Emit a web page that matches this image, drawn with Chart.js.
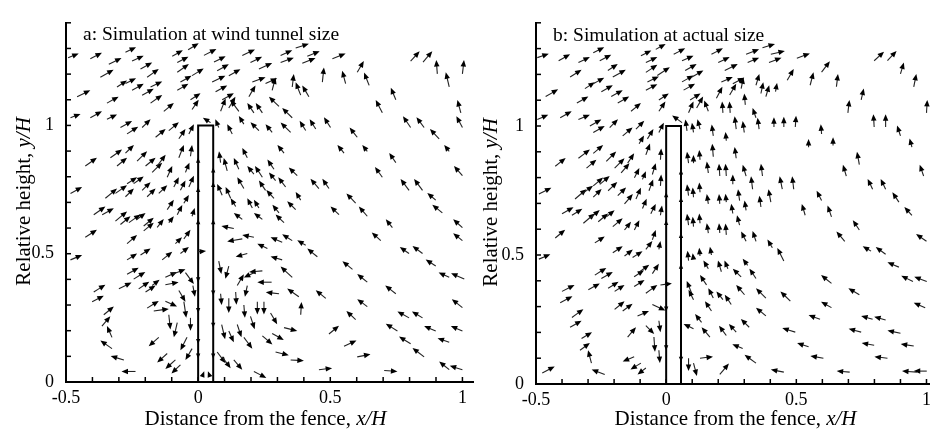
<!DOCTYPE html>
<html lang="en">
<head>
<meta charset="UTF-8">
<title>Flow around the fence</title>
<script src="https://cdn.jsdelivr.net/npm/chart.js"></script>
<style>
  body { margin: 0; background: #fff; }
  #wrap { position: relative; width: 936px; height: 429px; overflow: hidden; }
  canvas { position: absolute; top: 0; }
  #chartA { left: 0; }
  #chartB { left: 470px; }
</style>
</head>
<body>
<div id="wrap">
  <canvas id="chartA" width="480" height="429"></canvas>
  <canvas id="chartB" width="466" height="429"></canvas>
</div>
<script>
// tick labels
const xTickValues = [-0.5, 0, 0.5, 1];
const xTickLabels = ['-0.5', '0', '0.5', '1'];
const yTickValues = [0, 0.5, 1];
const yTickLabels = ['0', '0.5', '1'];

const titleA = 'a: Simulation at wind tunnel size';
const titleB = 'b: Simulation at actual size';
const xTitleParts = [['Distance from the fence, ', false], ['x/H', true]];
const yTitleParts = [['Relative height, ', false], ['y/H', true]];

// fence outline, x/H and y/H
const fenceX = [0, 0, 0.057, 0.057];
const fenceY = [0, 1, 1, 0];

// velocity vectors: [x, y, u, v]  (tail position and vector, in H units)
const arrowsA = [
  [-0.492,1.264,0.040,0.016],[-0.408,1.260,0.044,0.023],[-0.338,1.238,0.048,0.025],[-0.275,1.285,0.040,0.020],
  [-0.250,1.251,0.044,0.021],[-0.098,1.270,0.040,0.023],[-0.079,1.245,0.042,0.023],[-0.038,1.295,0.040,0.025],
  [0.022,1.273,0.047,0.025],[0.060,1.247,0.044,0.023],[0.167,1.273,0.048,0.023],[0.198,1.245,0.044,0.023],
  [0.312,1.273,0.044,0.020],[0.369,1.302,0.050,0.016],[0.312,1.245,0.050,0.019],[0.413,1.270,0.047,0.019],
  [0.394,1.242,0.050,0.021],[0.508,1.260,0.050,0.020],[0.602,1.207,0.025,0.044],[0.804,1.251,0.034,0.038],
  [0.851,1.247,0.035,0.042],[0.905,1.201,-0.004,0.054],[1.000,1.201,0.006,0.054],[-0.370,1.188,0.050,0.029],
  [-0.218,1.220,0.044,0.025],[-0.193,1.188,0.044,0.032],[-0.079,1.207,0.044,0.032],[-0.023,1.194,0.044,0.028],
  [-0.067,1.169,0.042,0.025],[0.072,1.213,0.044,0.025],[0.053,1.169,0.050,0.025],[0.116,1.194,0.044,0.025],
  [0.205,1.169,0.050,0.019],[0.230,1.220,0.050,0.023],[0.255,1.163,0.044,0.021],[0.280,1.137,0.013,0.050],
  [0.356,1.150,0.006,0.050],[0.470,1.169,0.006,0.057],[0.558,1.163,-0.013,0.050],[0.647,1.156,-0.019,0.050],
  [0.950,1.150,-0.013,0.057],[-0.307,1.150,0.038,0.025],[-0.275,1.163,0.040,0.021],[-0.250,1.137,0.044,0.025],
  [-0.212,1.118,0.044,0.025],[-0.180,1.150,0.044,0.021],[-0.458,1.112,0.050,0.025],[-0.345,1.087,0.044,0.025],
  [-0.079,1.137,0.042,0.025],[-0.029,1.100,0.038,0.025],[0.066,1.131,0.044,0.025],[0.091,1.100,0.044,0.025],
  [0.192,1.112,0.025,0.044],[0.388,1.118,-0.019,0.050],[0.419,1.112,-0.025,0.044],[0.748,1.100,-0.019,0.047],
  [-0.180,1.087,0.044,0.032],[-0.130,1.055,0.038,0.032],[-0.023,1.062,0.025,0.038],[0.085,1.055,0.019,0.050],
  [0.116,1.068,0.025,0.044],[0.154,1.055,-0.032,0.044],[0.211,1.049,-0.025,0.038],[0.243,1.049,-0.025,0.038],
  [0.306,1.074,-0.038,0.038],[0.356,1.030,-0.038,0.038],[0.697,1.049,-0.025,0.050],[0.994,1.049,-0.013,0.050],
  [-0.483,1.030,0.038,0.015],[-0.408,1.030,0.044,0.025],[-0.345,1.024,0.038,0.019],[-0.294,0.992,0.044,0.025],
  [-0.269,0.967,0.042,0.028],[-0.212,0.992,0.032,0.032],[-0.161,0.954,0.038,0.032],[-0.111,0.980,0.038,0.032],
  [-0.073,0.948,0.025,0.038],[-0.035,0.967,0.019,0.038],[0.047,1.011,-0.029,0.019],[0.078,0.992,-0.013,0.032],
  [0.129,0.967,-0.019,0.038],[0.173,1.005,-0.019,0.032],[0.230,0.980,-0.032,0.032],[0.280,0.973,-0.025,0.032],
  [0.350,0.973,-0.038,0.038],[0.407,0.980,-0.023,0.038],[0.445,0.986,-0.023,0.038],[0.501,0.992,-0.025,0.040],
  [0.602,0.954,-0.029,0.038],[0.804,0.992,-0.029,0.044],[0.855,0.992,-0.029,0.040],[0.912,0.948,-0.035,0.038],
  [1.000,0.992,-0.023,0.044],
  [-0.332,0.874,0.044,0.032],[-0.275,0.892,0.032,0.032],[-0.029,0.880,0.006,0.044],[0.552,0.892,-0.025,0.032],
  [0.640,0.899,-0.019,0.025],[0.950,0.899,-0.019,0.025],[-0.427,0.842,0.044,0.032],[-0.307,0.842,0.038,0.032],
  [-0.231,0.861,0.038,0.038],[-0.199,0.842,0.038,0.032],[-0.174,0.817,0.038,0.038],[-0.155,0.842,0.032,0.044],
  [-0.117,0.798,0.019,0.044],[-0.073,0.874,0.019,0.050],[-0.048,0.817,0.015,0.038],[0.085,0.855,-0.006,0.044],
  [0.110,0.823,-0.013,0.050],[0.154,0.829,-0.019,0.044],[0.186,0.874,-0.019,0.038],[0.211,0.810,-0.025,0.032],
  [0.243,0.798,-0.028,0.044],[0.287,0.829,-0.025,0.038],[0.375,0.804,-0.032,0.032],[0.325,0.892,-0.025,0.032],
  [0.748,0.855,-0.025,0.038],[0.697,0.798,-0.028,0.040],[1.000,0.804,-0.032,0.038],[-0.483,0.735,0.044,0.025],
  [-0.351,0.716,0.044,0.038],[-0.313,0.735,0.044,0.032],[-0.269,0.773,0.038,0.025],[-0.244,0.773,0.038,0.028],
  [-0.275,0.722,0.032,0.032],[-0.212,0.747,0.032,0.032],[-0.193,0.722,0.032,0.032],[-0.149,0.735,0.032,0.032],
  [-0.092,0.760,0.019,0.038],[-0.067,0.747,0.019,0.038],[-0.035,0.760,0.019,0.044],[0.091,0.728,-0.019,0.044],
  [0.123,0.716,-0.019,0.044],[0.173,0.754,-0.025,0.044],[0.255,0.747,-0.025,0.038],[0.331,0.760,-0.028,0.038],
  [0.293,0.785,-0.025,0.032],[0.457,0.754,-0.032,0.038],[0.495,0.754,-0.025,0.038],[0.798,0.747,-0.032,0.044],
  [0.849,0.747,-0.032,0.044],[0.596,0.697,-0.035,0.038],[0.899,0.709,-0.032,0.028],[-0.395,0.652,0.044,0.032],
  [-0.363,0.652,0.044,0.025],[-0.313,0.627,0.044,0.038],[-0.294,0.614,0.038,0.032],[-0.262,0.621,0.044,0.032],
  [-0.231,0.634,0.032,0.025],[-0.206,0.608,0.038,0.032],[-0.155,0.603,0.025,0.032],[-0.117,0.672,0.025,0.038],
  [-0.079,0.652,0.019,0.038],[-0.054,0.697,0.019,0.032],[-0.023,0.646,0.010,0.032],[-0.111,0.621,0.019,0.025],
  [0.142,0.684,-0.019,0.032],[0.205,0.678,-0.019,0.038],[0.230,0.678,-0.019,0.032],[0.287,0.716,-0.029,0.032],
  [0.306,0.659,-0.025,0.032],[0.369,0.672,-0.032,0.032],[0.388,0.709,-0.019,0.032],[0.533,0.652,-0.032,0.032],
  [0.640,0.646,-0.032,0.038],[0.924,0.659,-0.038,0.032],[0.167,0.634,-0.032,0.025],[0.243,0.634,-0.032,0.025],
  [0.325,0.621,-0.032,0.032],[0.135,0.598,-0.047,0.010],[-0.427,0.564,0.044,0.029],[-0.269,0.539,0.038,0.034],
  [-0.206,0.589,0.038,0.032],[-0.054,0.558,0.025,0.035],[-0.086,0.539,0.025,0.025],[0.167,0.558,-0.057,-0.010],
  [0.211,0.564,-0.044,0.009],[0.318,0.545,-0.044,0.019],[0.356,0.551,-0.038,0.025],[0.407,0.533,-0.032,0.019],
  [0.451,0.488,-0.038,0.032],[0.262,0.520,-0.038,0.019],[0.318,0.476,-0.044,0.013],[0.186,0.501,-0.044,-0.013],
  [0.735,0.602,-0.025,0.032],[0.691,0.551,-0.034,0.032],[1.000,0.551,-0.035,0.029],[1.000,0.602,-0.035,0.032],
  [0.798,0.501,-0.035,0.025],[0.849,0.501,-0.038,0.029],[-0.483,0.476,0.044,0.019],[-0.269,0.476,0.038,0.025],
  [-0.218,0.495,0.038,0.025],[-0.136,0.476,0.038,0.032],[-0.067,0.501,0.032,0.025],[-0.004,0.507,0.034,0.004],
  [-0.269,0.420,0.044,0.025],[-0.244,0.401,0.044,0.028],[-0.300,0.363,0.048,0.025],[-0.225,0.363,0.040,0.028],
  [-0.199,0.351,0.038,0.025],[-0.174,0.376,0.028,0.023],[-0.124,0.408,0.044,0.021],[-0.098,0.420,0.050,0.019],
  [-0.124,0.379,0.050,0.010],[-0.048,0.426,0.032,-0.044],[-0.020,0.376,0.008,-0.044],[-0.395,0.351,0.044,0.028],
  [-0.401,0.313,0.044,0.023],[-0.073,0.357,0.025,-0.044],[-0.193,0.288,0.044,0.028],[-0.168,0.277,0.057,0.008],
  [-0.124,0.315,0.044,-0.021],[-0.054,0.313,0.009,-0.063],[-0.029,0.250,0.000,-0.050],[-0.357,0.262,0.038,0.032],
  [-0.364,0.218,0.032,0.038],[-0.326,0.174,-0.019,0.044],[-0.326,0.130,-0.044,0.032],[-0.281,0.086,-0.050,0.015],
  [-0.237,0.041,-0.053,0.000],[-0.111,0.262,0.006,-0.057],[-0.079,0.231,-0.013,-0.057],[-0.149,0.174,-0.038,-0.035],
  [-0.042,0.174,-0.025,-0.050],[-0.023,0.130,-0.025,-0.044],[-0.117,0.111,-0.038,-0.035],[-0.086,0.086,-0.038,-0.035],
  [-0.067,0.067,-0.034,-0.034],[0.078,0.471,0.010,-0.050],[0.116,0.452,-0.013,-0.050],[0.148,0.376,0.025,0.044],
  [0.243,0.433,-0.050,-0.004],[0.211,0.426,-0.038,-0.019],[0.278,0.389,-0.054,0.000],[0.306,0.344,-0.050,0.006],
  [0.186,0.376,-0.009,-0.044],[0.356,0.408,-0.044,0.042],[0.381,0.332,-0.044,0.032],[0.388,0.262,0.003,0.050],
  [0.085,0.344,0.004,-0.044],[0.116,0.326,0.000,-0.057],[0.142,0.351,0.003,-0.050],[0.173,0.300,0.004,-0.050],
  [0.224,0.313,0.000,-0.050],[0.249,0.313,0.000,-0.050],[0.198,0.256,0.016,-0.050],[0.274,0.269,0.025,-0.044],
  [0.325,0.212,0.050,-0.013],[0.089,0.224,0.013,-0.057],[0.116,0.199,0.019,-0.044],[0.148,0.224,0.016,-0.050],
  [0.173,0.174,0.032,-0.044],[0.243,0.180,0.038,-0.034],[0.280,0.189,0.044,-0.025],[0.293,0.117,0.050,-0.013],
  [0.350,0.086,0.050,-0.003],[0.072,0.117,0.032,-0.044],[0.091,0.098,0.032,-0.044],[0.135,0.086,0.032,-0.038],
  [0.211,0.041,0.047,-0.025],[0.457,0.048,0.050,0.006],[0.602,0.098,0.050,0.010],[0.552,0.139,0.047,0.023],
  [0.495,0.187,0.038,0.032],[0.596,0.243,-0.035,0.034],[0.640,0.294,-0.038,0.029],[0.483,0.326,-0.038,0.032],
  [0.584,0.439,-0.038,0.032],[0.640,0.389,-0.038,0.032],[0.748,0.344,-0.040,0.032],[0.798,0.250,-0.044,0.025],
  [0.849,0.250,-0.040,0.025],[0.754,0.199,-0.044,0.028],[0.804,0.149,-0.044,0.028],[0.855,0.098,-0.044,0.035],
  [0.899,0.199,-0.044,0.019],[0.950,0.155,-0.044,0.016],[1.000,0.199,-0.044,0.019],[1.000,0.290,-0.040,0.033],
  [0.950,0.048,-0.038,0.032],[1.000,0.048,-0.048,0.015],[1.007,0.401,-0.050,0.023],[0.950,0.408,-0.040,0.019],
  [0.899,0.452,-0.038,0.025],[0.704,0.045,0.050,-0.004],
  [0.000,0.855,0,0.02],[0.000,0.741,0,0.02],[0.000,0.615,0,0.02],[0.000,0.408,0,-0.02],[0.000,0.288,0,-0.02],
  [0.000,0.168,0,-0.02],[0.000,0.111,0,-0.02],[0.057,0.817,0,0.02],[0.057,0.760,0,0.02],[0.057,0.615,0,0.02],
  [0.057,0.357,0,-0.02],[0.057,0.231,0,-0.02],[0.057,0.111,0,-0.02],[0.015,0.020,0.008,0.022],[0.045,0.020,-0.008,0.022]
];

const arrowsB = [
  [-0.495,1.265,0.044,0.015],[-0.413,1.253,0.044,0.025],[-0.337,1.246,0.044,0.021],[-0.280,1.284,0.042,0.021],
  [-0.255,1.253,0.044,0.023],[-0.097,1.272,0.040,0.021],[-0.078,1.246,0.044,0.021],[-0.040,1.297,0.038,0.021],
  [0.029,1.278,0.044,0.023],[0.061,1.253,0.044,0.019],[0.174,1.278,0.044,0.023],[0.200,1.246,0.044,0.021],
  [0.307,1.278,0.050,0.019],[0.370,1.303,0.048,0.015],[0.313,1.246,0.044,0.019],[0.402,1.278,0.054,0.013],
  [0.395,1.246,0.048,0.019],[0.502,1.263,0.050,0.018],[0.799,1.253,0.038,0.035],[0.850,1.253,0.035,0.038],
  [0.900,1.202,0.013,0.044],[-0.369,1.190,0.044,0.028],[-0.224,1.215,0.038,0.025],[-0.205,1.190,0.050,0.028],
  [-0.078,1.208,0.044,0.029],[-0.034,1.196,0.048,0.032],[-0.072,1.171,0.044,0.021],[0.073,1.215,0.044,0.025],
  [0.061,1.171,0.044,0.025],[0.099,1.190,0.044,0.025],[0.225,1.215,0.050,0.025],[0.212,1.171,0.044,0.019],
  [0.256,1.164,0.044,0.023],[0.288,1.145,0.009,0.044],[0.345,1.158,0.013,0.044],[0.465,1.177,0.025,0.044],
  [0.597,1.209,0.032,0.042],[0.553,1.158,0.013,0.050],[0.654,1.152,0.006,0.050],[0.951,1.152,0.010,0.050],
  [-0.312,1.145,0.038,0.025],[-0.280,1.164,0.042,0.023],[-0.249,1.133,0.044,0.025],[-0.211,1.114,0.044,0.025],
  [-0.463,1.114,0.048,0.028],[-0.343,1.089,0.044,0.025],[-0.078,1.139,0.044,0.023],[-0.028,1.101,0.038,0.025],
  [0.067,1.139,0.044,0.025],[0.092,1.101,0.040,0.025],[0.193,1.108,0.023,0.044],[0.244,1.120,0.025,0.044],
  [0.364,1.126,0.009,0.044],[0.383,1.114,0.013,0.044],[0.420,1.133,0.006,0.034],[0.749,1.101,0.010,0.044],
  [-0.186,1.089,0.044,0.025],[-0.135,1.057,0.038,0.032],[-0.028,1.057,0.025,0.038],[0.086,1.051,0.019,0.044],
  [0.117,1.070,0.025,0.044],[0.162,1.057,-0.016,0.042],[0.218,1.051,-0.003,0.044],[0.246,1.051,-0.003,0.044],
  [0.304,1.082,-0.004,0.044],[0.345,1.032,-0.013,0.038],[0.698,1.051,0.006,0.050],[1.000,1.051,0.003,0.050],
  [-0.495,1.025,0.042,0.019],[-0.407,1.032,0.044,0.025],[-0.337,1.025,0.044,0.019],[-0.293,1.000,0.044,0.025],
  [-0.280,0.975,0.044,0.025],[-0.217,0.994,0.032,0.032],[-0.167,0.962,0.038,0.032],[-0.116,0.988,0.032,0.032],
  [-0.072,0.950,0.023,0.038],[-0.028,0.975,0.019,0.038],[0.061,1.013,-0.038,0.028],[0.080,0.981,-0.006,0.044],
  [0.105,0.975,-0.006,0.038],[0.130,0.988,-0.010,0.038],[0.181,0.962,-0.006,0.044],[0.269,0.988,-0.006,0.050],
  [0.300,0.975,-0.006,0.044],[0.357,0.988,-0.006,0.044],[0.414,0.996,0.000,0.038],[0.452,0.996,0.000,0.040],
  [0.496,0.996,0.003,0.044],[0.597,0.969,-0.003,0.038],[0.799,0.996,-0.003,0.050],[0.843,0.996,0.000,0.050],
  [0.900,0.962,-0.013,0.040],[0.944,0.918,-0.009,0.034],[0.547,0.918,0.000,0.032],[0.641,0.924,0.000,0.032],
  [0.231,0.943,-0.003,0.034],[-0.104,0.931,0.019,0.032],
  [-0.337,0.875,0.044,0.034],[-0.280,0.894,0.038,0.032],[-0.426,0.844,0.040,0.032],[-0.306,0.837,0.038,0.032],
  [-0.230,0.863,0.038,0.038],[-0.198,0.837,0.038,0.038],[-0.173,0.818,0.032,0.038],[-0.148,0.856,0.025,0.038],
  [-0.122,0.799,0.019,0.038],[-0.078,0.888,0.016,0.044],[-0.053,0.812,0.013,0.044],[-0.022,0.869,0.003,0.044],
  [-0.091,0.793,0.013,0.032],[0.086,0.856,-0.006,0.044],[0.105,0.856,0.000,0.032],[0.130,0.869,-0.003,0.038],
  [0.162,0.818,-0.006,0.044],[0.206,0.806,-0.003,0.048],[0.231,0.806,-0.003,0.048],[0.181,0.881,-0.004,0.050],
  [0.269,0.875,-0.006,0.044],[0.307,0.806,-0.013,0.044],[0.370,0.806,-0.006,0.048],[0.256,0.774,0.000,0.038],
  [0.332,0.755,-0.006,0.050],[0.446,0.755,-0.010,0.050],[0.490,0.755,-0.006,0.050],[0.742,0.850,-0.009,0.050],
  [0.692,0.806,-0.013,0.044],[0.989,0.806,-0.015,0.044],[-0.489,0.736,0.048,0.025],[-0.350,0.717,0.044,0.038],
  [-0.325,0.736,0.044,0.032],[-0.280,0.768,0.038,0.032],[-0.255,0.774,0.038,0.032],[-0.280,0.724,0.032,0.032],
  [-0.223,0.749,0.035,0.034],[-0.186,0.730,0.032,0.032],[-0.160,0.698,0.032,0.038],[-0.116,0.717,0.019,0.044],
  [-0.066,0.749,0.016,0.044],[-0.022,0.768,0.003,0.044],[0.086,0.730,-0.006,0.044],[0.105,0.724,-0.003,0.038],
  [0.130,0.743,-0.003,0.038],[0.162,0.698,-0.006,0.038],[0.206,0.698,-0.003,0.038],[0.231,0.705,-0.003,0.032],
  [0.282,0.711,-0.006,0.044],[0.307,0.673,-0.006,0.038],[0.364,0.686,-0.006,0.044],[0.402,0.705,-0.009,0.050],
  [0.534,0.654,-0.013,0.044],[0.597,0.711,-0.019,0.038],[0.635,0.648,-0.015,0.044],[0.793,0.755,-0.019,0.040],
  [0.843,0.755,-0.019,0.040],[0.894,0.705,-0.025,0.038],[0.944,0.654,-0.029,0.032],[-0.400,0.660,0.044,0.025],
  [-0.362,0.654,0.040,0.025],[-0.318,0.623,0.044,0.038],[-0.293,0.642,0.038,0.032],[-0.261,0.629,0.038,0.032],
  [-0.230,0.648,0.032,0.025],[-0.205,0.610,0.038,0.032],[-0.160,0.597,0.025,0.032],[-0.122,0.597,0.019,0.038],
  [-0.091,0.680,0.016,0.038],[-0.059,0.660,0.019,0.038],[-0.022,0.654,0.006,0.038],[0.086,0.616,-0.006,0.044],
  [0.105,0.610,-0.003,0.038],[0.130,0.623,-0.003,0.038],[0.162,0.585,-0.006,0.038],[0.206,0.585,-0.003,0.038],
  [0.231,0.578,-0.003,0.044],[0.256,0.661,-0.006,0.038],[0.282,0.616,-0.010,0.038],[0.307,0.553,-0.019,0.038],
  [0.345,0.553,-0.013,0.040],[0.408,0.528,-0.019,0.032],[0.452,0.477,-0.025,0.050],[0.686,0.553,-0.032,0.038],
  [0.742,0.597,-0.025,0.038],[0.787,0.515,-0.032,0.019],[0.843,0.503,-0.038,0.028],[1.000,0.553,-0.040,0.028],
  [-0.426,0.566,0.038,0.032],[-0.274,0.547,0.038,0.025],[-0.205,0.509,0.038,0.025],[-0.160,0.496,0.032,0.025],
  [-0.129,0.490,0.038,0.025],[-0.078,0.522,0.025,0.032],[-0.053,0.559,0.013,0.038],[-0.028,0.522,0.006,0.032],
  [-0.489,0.484,0.044,0.019],[0.086,0.478,-0.004,0.038],[0.105,0.482,-0.003,0.025],[0.130,0.496,-0.003,0.032],
  [0.174,0.500,-0.006,0.032],
  [-0.274,0.422,0.044,0.028],[-0.249,0.409,0.044,0.025],[-0.299,0.365,0.044,0.025],[-0.223,0.371,0.040,0.025],
  [-0.198,0.359,0.038,0.025],[-0.123,0.416,0.038,0.025],[-0.103,0.434,0.038,0.028],[-0.123,0.378,0.040,0.025],
  [-0.053,0.428,0.025,0.038],[-0.400,0.359,0.048,0.025],[-0.407,0.315,0.047,0.025],[-0.022,0.384,0.044,0.006],
  [-0.078,0.352,0.044,0.032],[-0.198,0.289,0.038,0.032],[-0.167,0.283,0.038,0.028],[-0.110,0.264,0.044,0.019],
  [-0.053,0.308,0.050,-0.023],[-0.362,0.258,0.044,0.032],[-0.369,0.220,0.044,0.025],[-0.325,0.176,0.040,0.025],
  [-0.331,0.131,0.038,0.028],[-0.287,0.081,-0.013,0.050],[-0.236,0.037,-0.050,0.019],[-0.476,0.043,0.048,0.025],
  [-0.148,0.182,0.032,0.038],[-0.078,0.226,0.032,-0.032],[-0.047,0.182,0.004,-0.057],[-0.028,0.245,0.006,-0.044],
  [-0.028,0.131,0.004,-0.050],[-0.123,0.106,-0.044,-0.019],[-0.097,0.081,-0.040,-0.025],[-0.078,0.062,-0.032,-0.025],
  [0.098,0.352,-0.019,0.047],[0.162,0.447,-0.019,0.032],[0.212,0.435,-0.013,0.044],[0.237,0.447,-0.013,0.032],
  [0.288,0.415,-0.032,0.032],[0.313,0.460,-0.019,0.025],[0.345,0.409,-0.025,0.038],[0.155,0.384,-0.025,0.038],
  [0.301,0.346,-0.032,0.038],[0.105,0.327,-0.019,0.038],[0.181,0.333,-0.019,0.038],[0.218,0.327,-0.025,0.032],
  [0.250,0.308,-0.025,0.038],[0.174,0.283,-0.025,0.038],[0.383,0.333,-0.038,0.038],[0.477,0.321,-0.038,0.038],
  [0.383,0.264,-0.038,0.032],[0.635,0.390,-0.040,0.032],[0.742,0.346,-0.042,0.025],[0.894,0.453,-0.044,0.019],
  [0.948,0.397,-0.045,0.023],[1.001,0.397,-0.048,0.019],[0.995,0.296,-0.044,0.019],[0.635,0.296,-0.040,0.023],
  [0.591,0.251,-0.044,0.016],[0.793,0.251,-0.044,0.013],[0.843,0.248,-0.044,0.013],[0.105,0.214,-0.038,0.019],
  [0.136,0.239,-0.025,0.032],[0.168,0.182,-0.032,0.038],[0.231,0.188,-0.028,0.038],[0.269,0.201,-0.028,0.032],
  [0.319,0.220,-0.032,0.032],[0.294,0.138,-0.040,0.016],[0.345,0.081,-0.044,0.032],[0.496,0.201,-0.050,0.016],
  [0.547,0.144,-0.044,0.015],[0.604,0.100,-0.050,0.009],[0.452,0.046,-0.050,0.010],[0.705,0.046,-0.050,0.004],
  [0.749,0.201,-0.048,0.013],[0.900,0.197,-0.050,0.010],[0.799,0.150,-0.048,0.009],[0.951,0.147,-0.050,0.008],
  [0.850,0.100,-0.050,0.006],[0.963,0.046,-0.057,0.004],[1.001,0.050,-0.050,0.000],[0.130,0.100,0.050,0.006],
  [0.206,0.037,0.035,0.042],[0.086,0.100,0.000,-0.050],[0.105,0.081,0.013,-0.050],
  [0.000,0.724,0,0.02],[0.000,0.616,0,0.02],[0.000,0.300,0,-0.02],[0.000,0.150,0,-0.02],[0.057,0.812,0,0.02],
  [0.057,0.705,0,0.02],[0.057,0.566,0,0.02],[0.057,0.447,0,0.02],[0.057,0.106,0,-0.02]
];

Chart.defaults.font.family = '"Liberation Serif", "Times New Roman", serif';
Chart.defaults.color = '#000';

function onStep(v) {
  return Math.abs(v * 10 - Math.round(v * 10)) < 1e-6;
}
function tickText(values, labels) {
  return function (v) {
    const i = values.findIndex(t => Math.abs(t - v) < 1e-6);
    return i >= 0 ? labels[i] : '';
  };
}

function drawArrow(ctx, x0, y0, x1, y1) {
  const dx = x1 - x0, dy = y1 - y0, len = Math.hypot(dx, dy);
  if (len < 0.5) return;
  const ux = dx / len, uy = dy / len;
  const hl = Math.min(6.5, len), hw = hl * 0.42;
  const bx = x1 - ux * hl, by = y1 - uy * hl;
  ctx.strokeStyle = '#222';
  ctx.lineWidth = 1.1;
  if (len > hl) {
    ctx.beginPath();
    ctx.moveTo(x0, y0);
    ctx.lineTo(bx + ux, by + uy);
    ctx.stroke();
  }
  ctx.fillStyle = '#000';
  ctx.beginPath();
  ctx.moveTo(x1, y1);
  ctx.lineTo(bx - uy * hw, by + ux * hw);
  ctx.lineTo(bx + uy * hw, by - ux * hw);
  ctx.closePath();
  ctx.fill();
}

// draws the vectors stored on a dataset, through the chart scales
const arrowPlugin = {
  id: 'arrows',
  afterDatasetsDraw(chart) {
    const ctx = chart.ctx, xs = chart.scales.x, ys = chart.scales.y;
    ctx.save();
    chart.data.datasets.forEach(ds => {
      if (!ds.vectors) return;
      ds.data.forEach((p, i) => {
        const [u, v] = ds.vectors[i];
        drawArrow(ctx,
          xs.getPixelForValue(p.x), ys.getPixelForValue(p.y),
          xs.getPixelForValue(p.x + u), ys.getPixelForValue(p.y + v));
      });
    });
    ctx.restore();
  }
};

// tick marks pointing into the plot
const innerTicks = {
  id: 'innerTicks',
  afterDraw(chart) {
    const ctx = chart.ctx, a = chart.chartArea, xs = chart.scales.x, ys = chart.scales.y;
    ctx.save();
    ctx.strokeStyle = '#000';
    ctx.lineWidth = 1.5;
    xs.ticks.forEach(t => {
      if (!onStep(t.value)) return;
      const px = xs.getPixelForValue(t.value);
      ctx.beginPath(); ctx.moveTo(px, a.bottom); ctx.lineTo(px, a.bottom - 5); ctx.stroke();
    });
    ys.ticks.forEach(t => {
      if (!onStep(t.value)) return;
      const py = ys.getPixelForValue(t.value);
      ctx.beginPath(); ctx.moveTo(a.left, py); ctx.lineTo(a.left + 5, py); ctx.stroke();
    });
    ctx.restore();
  }
};

function drawParts(ctx, parts, size) {
  const fonts = parts.map(p => (p[1] ? 'italic ' : '') + size + 'px "Liberation Serif"');
  let total = 0;
  const w = parts.map((p, i) => { ctx.font = fonts[i]; const m = ctx.measureText(p[0]).width; total += m; return m; });
  let x = -total / 2;
  parts.forEach((p, i) => { ctx.font = fonts[i]; ctx.fillText(p[0], x, 0); x += w[i]; });
}

const textPlugin = {
  id: 'panelText',
  afterDraw(chart, args, o) {
    const ctx = chart.ctx, a = chart.chartArea;
    ctx.save();
    ctx.fillStyle = '#000';
    ctx.textAlign = 'left';
    ctx.textBaseline = 'alphabetic';
    ctx.font = '19.5px "Liberation Serif"';
    ctx.fillText(o.title, a.left + 17, a.top + o.titleDy);
    ctx.translate((a.left + a.right) / 2 + o.xTitleDx, o.xTitleY);
    drawParts(ctx, xTitleParts, 21);
    ctx.restore();
    ctx.save();
    ctx.fillStyle = '#000';
    ctx.textBaseline = 'alphabetic';
    ctx.translate(o.yTitleX, (a.top + a.bottom) / 2 + o.yTitleDy);
    ctx.rotate(-Math.PI / 2);
    drawParts(ctx, yTitleParts, 21);
    ctx.restore();
  }
};

function makePanel(id, arrows, s) {
  new Chart(document.getElementById(id), {
    type: 'scatter',
    data: {
      datasets: [
        {
          data: fenceX.map((x, i) => ({ x: x, y: fenceY[i] })),
          showLine: true, borderColor: '#000', borderWidth: 2,
          pointRadius: 0, fill: false, clip: false
        },
        {
          data: arrows.map(a => ({ x: a[0], y: a[1] })),
          vectors: arrows.map(a => [a[2], a[3]]),
          pointRadius: 0
        }
      ]
    },
    options: {
      responsive: false,
      animation: false,
      layout: { padding: { left: 0, right: s.padRight, top: s.padTop, bottom: 0 } },
      plugins: {
        legend: { display: false },
        tooltip: { enabled: false },
        panelText: s.text
      },
      scales: {
        x: {
          type: 'linear', min: -0.5, max: s.xMax,
          afterFit: sc => { sc.height = s.xHeight; },
          grid: { drawOnChartArea: false, drawTicks: false },
          border: { display: true, color: '#000', width: 2 },
          ticks: { stepSize: 0.1, includeBounds: false, autoSkip: false, maxRotation: 0, padding: 5,
                   font: { size: 18 }, callback: tickText(xTickValues, xTickLabels) }
        },
        y: {
          type: 'linear', min: 0, max: 1.4,
          afterFit: sc => { sc.width = s.yWidth; },
          grid: { drawOnChartArea: false, drawTicks: false },
          border: { display: true, color: '#000', width: 2 },
          ticks: { stepSize: 0.1, autoSkip: false, padding: 12,
                   font: { size: 18 }, callback: tickText(yTickValues, yTickLabels) }
        }
      }
    },
    plugins: [arrowPlugin, innerTicks, textPlugin]
  });
}

makePanel('chartA', arrowsA, {
  xMax: 1.04, padRight: 7, padTop: 13, xHeight: 47, yWidth: 66,
  text: { title: titleA, titleDy: 17, xTitleDx: -4, xTitleY: 425, yTitleX: 30, yTitleDy: -1 }
});
makePanel('chartB', arrowsB, {
  xMax: 1.01, padRight: 1, padTop: 14, xHeight: 45, yWidth: 66,
  text: { title: titleB, titleDy: 18, xTitleDx: 3, xTitleY: 425, yTitleX: 27, yTitleDy: -1 }
});
</script>
</body>
</html>
